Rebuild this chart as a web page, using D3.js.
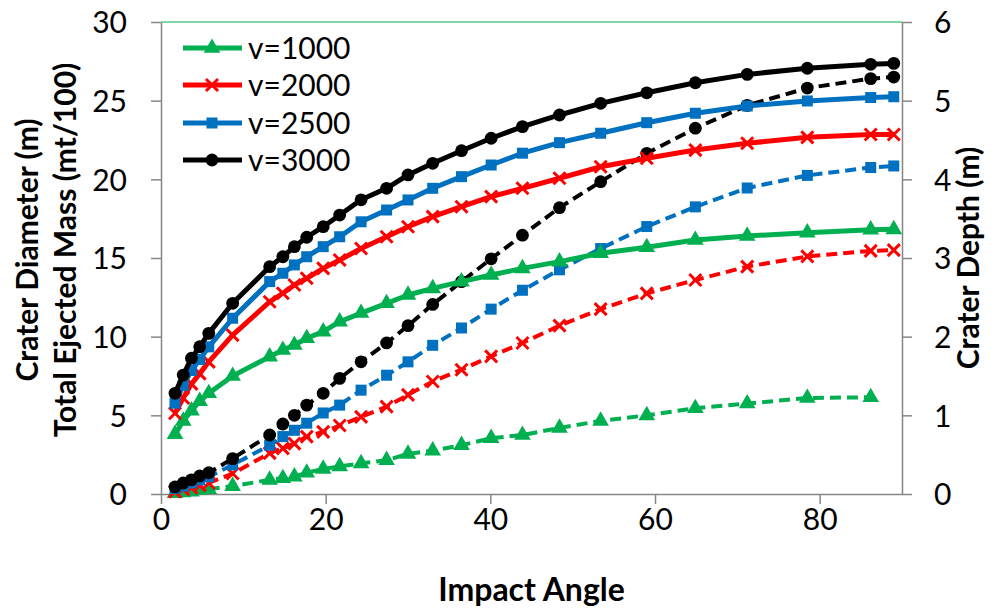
<!DOCTYPE html>
<html><head><meta charset="utf-8">
<script src="https://cdn.jsdelivr.net/npm/d3@7"></script>
<style>
html,body{margin:0;padding:0;background:#fff;}
svg{display:block;font-family:Lato, "Open Sans", sans-serif;}
</style></head>
<body><svg id="c" width="1003" height="609"></svg>
<script>
// Impact angles (degrees)
const angles = [1.7, 2.7, 3.7, 4.7, 5.8, 8.7, 13.2, 14.8, 16.2, 17.7, 19.7, 21.7, 24.3, 27.4, 30, 33, 36.5, 40.1, 43.9, 48.4, 53.4, 59, 64.9, 71.2, 78.5, 86.2, 89];
const seriesNames = ["v=1000", "v=2000", "v=2500", "v=3000"];
// Crater diameter / total ejected mass (left axis)
const diam1000 = [3.8, 4.65, 5.3, 5.9, 6.4, 7.5, 8.73, 9.15, 9.47, 9.9, 10.32, 10.95, 11.5, 12.12, 12.65, 13.07, 13.5, 13.92, 14.34, 14.77, 15.3, 15.68, 16.14, 16.4, 16.61, 16.8, 16.82];
const diam2000 = [5.13, 6.1, 7.0, 7.65, 8.4, 10.1, 12.22, 12.76, 13.28, 13.71, 14.34, 14.87, 15.6, 16.35, 16.99, 17.63, 18.26, 18.9, 19.43, 20.07, 20.8, 21.34, 21.86, 22.29, 22.67, 22.85, 22.85];
const diam2500 = [5.77, 6.9, 7.85, 8.55, 9.35, 11.17, 13.5, 14.03, 14.56, 15.08, 15.72, 16.35, 17.3, 18.05, 18.69, 19.43, 20.17, 20.91, 21.66, 22.33, 22.93, 23.6, 24.2, 24.66, 24.98, 25.2, 25.25];
const diam3000 = [6.4, 7.56, 8.63, 9.36, 10.21, 12.12, 14.45, 15.08, 15.72, 16.32, 16.99, 17.73, 18.7, 19.43, 20.28, 21.02, 21.82, 22.61, 23.35, 24.09, 24.83, 25.5, 26.14, 26.67, 27.06, 27.31, 27.37];
// Crater depth (right axis)
const depth1000 = [0.01, 0.02, 0.03, 0.05, 0.06, 0.10, 0.18, 0.20, 0.22, 0.27, 0.32, 0.35, 0.39, 0.43, 0.51, 0.55, 0.62, 0.71, 0.75, 0.84, 0.93, 1.00, 1.09, 1.15, 1.22, 1.23];
const depth2000 = [0.03, 0.06, 0.08, 0.11, 0.14, 0.26, 0.52, 0.58, 0.64, 0.73, 0.79, 0.87, 0.98, 1.11, 1.26, 1.43, 1.58, 1.75, 1.92, 2.14, 2.35, 2.55, 2.72, 2.89, 3.02, 3.09, 3.10];
const depth2500 = [0.07, 0.10, 0.14, 0.18, 0.22, 0.37, 0.62, 0.73, 0.81, 0.90, 1.03, 1.13, 1.32, 1.51, 1.68, 1.89, 2.11, 2.35, 2.59, 2.85, 3.12, 3.40, 3.65, 3.89, 4.05, 4.15, 4.17];
const depth3000 = [0.09, 0.14, 0.18, 0.23, 0.27, 0.45, 0.75, 0.89, 1.00, 1.13, 1.28, 1.47, 1.68, 1.92, 2.14, 2.41, 2.70, 2.99, 3.29, 3.64, 3.97, 4.33, 4.65, 4.94, 5.16, 5.28, 5.30];
const xTicks = [0, 20, 40, 60, 80];
const yLeftTicks = [0, 5, 10, 15, 20, 25, 30];
const yRightTicks = [0, 1, 2, 3, 4, 5, 6];
const colors = ["#00B050", "#FF0000", "#0070C0", "#000000"];
const markers = ["triangle", "x", "square", "circle"];

const svg = d3.select("#c");
const L = 161, R = 902, T = 22, B = 494;
const x = d3.scaleLinear().domain([0, 90]).range([L, R]);
const yL = d3.scaleLinear().domain([0, 30]).range([B, T]);
const yR = d3.scaleLinear().domain([0, 6]).range([B, T]);
const axisColor = "#868686";

// top border (green)
svg.append("line").attr("x1", L).attr("x2", R).attr("y1", T).attr("y2", T)
  .attr("stroke", "#00B050").attr("stroke-width", 1);

function styleAxis(g) {
  g.select(".domain").attr("stroke", axisColor).attr("stroke-width", 1.5);
  g.selectAll(".tick line").attr("stroke", axisColor).attr("stroke-width", 1.5);
  g.selectAll(".tick text").attr("fill", "#000").style("font-size", "30px").style("font-family", "Lato");
}
const gx = svg.append("g").attr("transform", `translate(0,${B})`)
  .call(d3.axisBottom(x).tickValues(xTicks).tickFormat(d3.format("d")).tickSize(10).tickSizeOuter(0).tickPadding(5));
styleAxis(gx);
const gyl = svg.append("g").attr("transform", `translate(${L},0)`)
  .call(d3.axisLeft(yL).tickValues(yLeftTicks).tickFormat(d3.format("d")).tickSize(10).tickSizeOuter(0).tickPadding(24));
styleAxis(gyl);
gyl.selectAll(".tick text").attr("dy", "0.36em");
const gyr = svg.append("g").attr("transform", `translate(${R},0)`)
  .call(d3.axisRight(yR).tickValues(yRightTicks).tickFormat(d3.format("d")).tickSize(10).tickSizeOuter(0).tickPadding(22));
styleAxis(gyr);
gyr.selectAll(".tick text").attr("dy", "0.36em");

// axis titles
svg.append("text").attr("x", (L + R) / 2).attr("y", 601).attr("text-anchor", "middle")
  .style("font-size", "32px").style("font-weight", "bold").text("Impact Angle");
svg.append("text").attr("transform", `translate(38,250) rotate(-90)`).attr("text-anchor", "middle")
  .style("font-size", "30px").style("font-weight", "bold").text("Crater Diameter (m)");
svg.append("text").attr("transform", `translate(76,250) rotate(-90)`).attr("text-anchor", "middle")
  .style("font-size", "30px").style("font-weight", "bold").text("Total Ejected Mass (mt/100)");
svg.append("text").attr("transform", `translate(979,258) rotate(-90)`).attr("text-anchor", "middle")
  .style("font-size", "30px").style("font-weight", "bold").text("Crater Depth (m)");

function drawMarker(g, type, cx, cy, color) {
  if (type === "triangle") {
    g.append("path").attr("d", d3.symbol().type(d3.symbolTriangle).size(120)())
      .attr("transform", `translate(${cx},${cy})`).attr("fill", color);
  } else if (type === "x") {
    const s = 6;
    g.append("path").attr("d", `M${cx - s},${cy - s}L${cx + s},${cy + s}M${cx - s},${cy + s}L${cx + s},${cy - s}`)
      .attr("stroke", color).attr("stroke-width", 3).attr("fill", "none");
  } else if (type === "square") {
    g.append("rect").attr("x", cx - 5.5).attr("y", cy - 5.5).attr("width", 11).attr("height", 11).attr("fill", color);
  } else {
    g.append("circle").attr("cx", cx).attr("cy", cy).attr("r", 6.4).attr("fill", color);
  }
}

const depthData = [depth1000, depth2000, depth2500, depth3000];
const diamData = [diam1000, diam2000, diam2500, diam3000];

function drawSeries(vals, yScale, i, dashed) {
  const pts = vals.map((v, k) => [angles[k], v]);
  const line = d3.line().x(d => x(d[0])).y(d => yScale(d[1]));
  const g = svg.append("g");
  g.append("path").attr("d", line(pts)).attr("fill", "none").attr("stroke", colors[i])
    .attr("stroke-width", dashed ? 4 : 5).attr("stroke-linejoin", "round")
    .attr("stroke-dasharray", dashed ? "11,6" : null);
  pts.forEach(p => drawMarker(g, markers[i], x(p[0]), yScale(p[1]), colors[i]));
}
depthData.forEach((d, i) => drawSeries(d, yR, i, true));
diamData.forEach((d, i) => drawSeries(d, yL, i, false));

// legend
const legY = [48, 85, 123, 160];
seriesNames.forEach((n, i) => {
  const g = svg.append("g");
  g.append("line").attr("x1", 183).attr("x2", 242).attr("y1", legY[i]).attr("y2", legY[i])
    .attr("stroke", colors[i]).attr("stroke-width", 5);
  drawMarker(g, markers[i], 212, legY[i], colors[i]);
  g.append("text").attr("x", 248).attr("y", legY[i]).attr("dy", "0.36em")
    .style("font-size", "30px").text(n);
});
</script></body></html>
